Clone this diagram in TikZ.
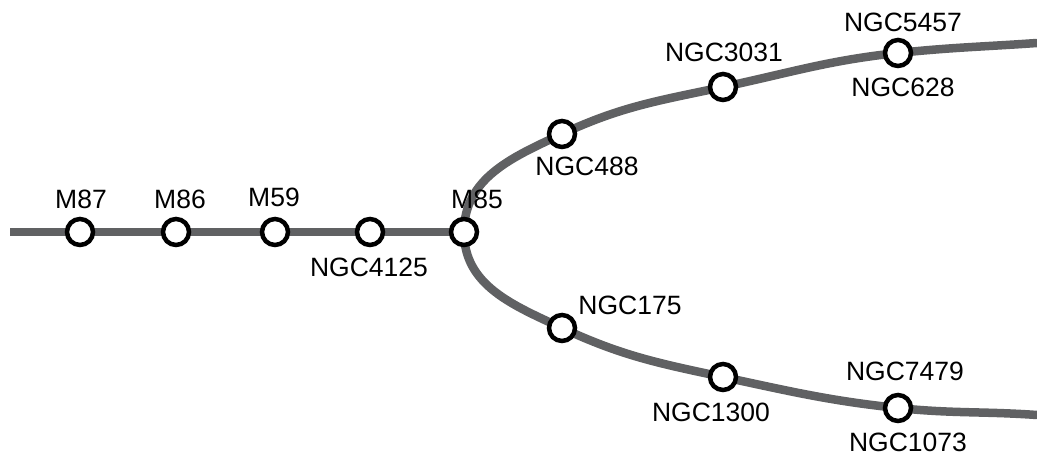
\documentclass[tikz,border=0pt]{standalone}
\usepackage{fontspec}
\setmainfont{Liberation Sans}
\definecolor{track}{RGB}{96,97,99}
\begin{document}
\begin{tikzpicture}[x=1pt,y=1pt,
  track/.style={draw=track,line width=8.5pt},
  station/.style={circle,draw=black,fill=white,line width=4.5pt,minimum size=26pt,inner sep=0pt},
  lbl/.style={inner sep=0pt,font=\fontsize{26.5}{30}\selectfont}]
\useasboundingbox (0,0) rectangle (1037,460);
% station coordinates
\coordinate (start) at (10,228);
\coordinate (pm87) at (80,228);
\coordinate (pm86) at (176,228);
\coordinate (pm59) at (275,228);
\coordinate (pn4125) at (370,228);
\coordinate (pm85) at (464,228);
\coordinate (pn488) at (562,326);
\coordinate (pn3031) at (723,373);
\coordinate (pn5457) at (898,407);
\coordinate (uend) at (1037,417);
\coordinate (pn175) at (562,132);
\coordinate (pn1300) at (723,83);
\coordinate (pn1073) at (898,52);
\coordinate (lend) at (1037,45);
% tracks
\draw[track] (start) -- (pm85);
\draw[track] (pm85) to[out=90,in=205] (pn488) to[out=25,in=192] (pn3031)
  to[out=12,in=186] (pn5457) to[out=6,in=184] (uend);
\draw[track] (pm85) to[out=-90,in=155] (pn175) to[out=-25,in=168] (pn1300)
  to[out=-12,in=174] (pn1073) to[out=-6,in=176] (lend);
% stations
\foreach \s in {pm87,pm86,pm59,pn4125,pm85,pn488,pn3031,pn5457,pn175,pn1300,pn1073}
  \node[station] (s\s) at (\s) {};
% labels
\node[lbl] (lm87) at (81,261) {M87};
\node[lbl] (lm86) at (180,261) {M86};
\node[lbl] (lm59) at (274,263) {M59};
\node[lbl] (lm85) at (477,261) {M85};
\node[lbl] (ln4125) at (369,193) {NGC4125};
\node[lbl] (ln488) at (587,294) {NGC488};
\node[lbl] (ln3031) at (724,408) {NGC3031};
\node[lbl] (ln5457) at (903,438) {NGC5457};
\node[lbl] (ln628) at (903,373) {NGC628};
\node[lbl] (ln175) at (630,155) {NGC175};
\node[lbl] (ln1300) at (711,48) {NGC1300};
\node[lbl] (ln7479) at (905,89) {NGC7479};
\node[lbl] (ln1073) at (908,18) {NGC1073};
\end{tikzpicture}
\end{document}
